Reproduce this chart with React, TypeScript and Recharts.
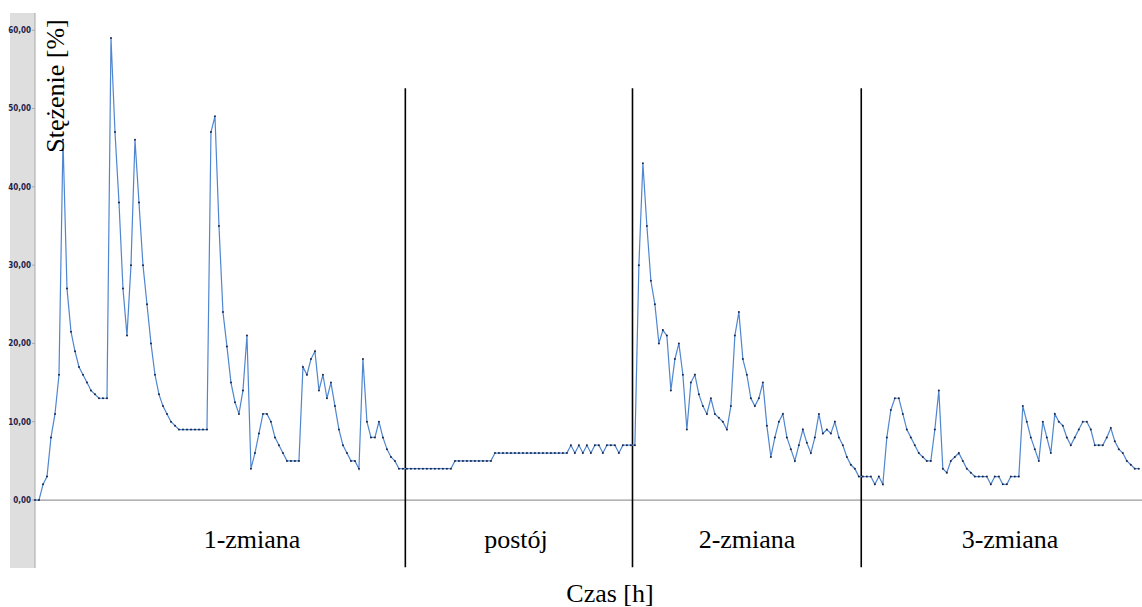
import { Line, LineChart, ReferenceLine, YAxis, XAxis } from "recharts";

// Stężenie [%] sampled every 5 min, split by work period
const shift1 = [
  0, 0, 2, 3, 8, 11, 16, 46, 27, 21.5,
  19, 17, 16, 15, 14, 13.5, 13, 13, 13, 59,
  47, 38, 27, 21, 30, 46, 38, 30, 25, 20,
  16, 13.5, 12, 11, 10, 9.5, 9, 9, 9, 9,
  9, 9, 9, 9, 47, 49, 35, 24, 19.6, 15,
  12.5, 11, 14, 21, 4, 6, 8.5, 11, 11, 10,
  8, 7, 6, 5, 5, 5, 5, 17, 16, 18,
  19, 14, 16, 13, 15, 12, 9, 7, 6, 5,
  5, 4, 18, 10, 8, 8, 10, 8, 6.5, 5.5,
  5, 4, 4,
];
const pause = [
  4, 4, 4, 4, 4, 4, 4, 4, 4, 4,
  4, 4, 5, 5, 5, 5, 5, 5, 5, 5,
  5, 5, 6, 6, 6, 6, 6, 6, 6, 6,
  6, 6, 6, 6, 6, 6, 6, 6, 6, 6,
  6, 7, 6, 7, 6, 7, 6, 7, 7, 6,
  7, 7, 7, 6, 7, 7, 7,
];
const shift2 = [
  7, 30, 43, 35, 28, 25, 20, 21.7, 21, 14,
  18, 20, 16, 9, 15, 16, 13.5, 12, 11, 13,
  11, 10.5, 10, 9, 12, 21, 24, 18, 16, 13,
  12, 13, 15, 9.5, 5.5, 8, 10, 11, 8, 6.5,
  5, 7, 9, 7.3, 6, 8, 11, 8.5, 9, 8.5,
  10, 8, 7, 5.5, 4.5, 4, 3,
];
const shift3 = [
  3, 3, 3, 2, 3, 2, 8, 11.5, 13, 13,
  11, 9, 8, 7, 6, 5.5, 5, 5, 9, 14,
  4, 3.5, 5, 5.5, 6, 5, 4, 3.5, 3, 3,
  3, 3, 2, 3, 3, 2, 2, 3, 3, 3,
  12, 10, 8, 6.5, 5, 10, 8, 6, 11, 10,
  9.5, 8, 7, 8, 9, 10, 10, 9, 7, 7,
  7, 8, 9.2, 7.5, 6.5, 6, 5, 4.5, 4, 4,
];

const STEP_MIN = 5;
const boundaries = [463, 747, 1033];
const periodLabels = ["1-zmiana", "postój", "2-zmiana", "3-zmiana"];
const yTicks = [0, 10, 20, 30, 40, 50, 60];

const values = [...shift1, ...pause, ...shift2, ...shift3];
const data = values.map((v, i) => ({ t: i * STEP_MIN, v }));

const formatTick = (v: number) => v.toFixed(2).replace(".", ",");

const labelPos = [252, 516, 747, 1010];

export default function App() {
  return (
    <div style={{ position: "absolute", left: 0, top: 0, width: 1142, height: 607, background: "#fff" }}>
      <div style={{ position: "absolute", left: 10, top: 13, width: 25, height: 555, background: "#dedede" }} />
      <div style={{ position: "absolute", left: 0, top: 0 }}>
        <LineChart width={1142} height={607} data={data} margin={{ top: 13, right: 0, bottom: 39, left: 10 }}>
          <XAxis type="number" dataKey="t" domain={[0, 1384]} hide />
          <YAxis
            type="number"
            domain={[-8.68, 62.2]}
            ticks={yTicks}
            width={25}
            tickFormatter={formatTick}
            tickSize={3}
            tickMargin={1}
            stroke="#a8a8a8"
            tick={{ fill: "#1f1f4d", fontSize: 8, fontWeight: 700, fontFamily: "'Liberation Sans Narrow', 'DejaVu Sans Condensed', sans-serif" }}
          />
          <ReferenceLine y={0} stroke="#9a9a9a" strokeWidth={1.2} />
          {boundaries.map((b) => (
            <ReferenceLine
              key={b}
              segment={[{ x: b, y: 52.6 }, { x: b, y: -8.6 }]}
              stroke="#000"
              strokeWidth={1.6}
            />
          ))}
          <Line
            type="linear"
            dataKey="v"
            stroke="#4f86d0"
            strokeWidth={1.2}
            dot={{ r: 1, fill: "#1a2648", stroke: "none" }}
            activeDot={false}
            isAnimationActive={false}
          />
        </LineChart>
      </div>
      <svg width={1142} height={607} style={{ position: "absolute", left: 0, top: 0, pointerEvents: "none" }}>
        <g fontFamily="'Liberation Serif', 'Times New Roman', serif" fill="#000" fontSize={26}>
          {periodLabels.map((l, i) => (
            <text key={l} x={labelPos[i]} y={548} textAnchor="middle">{l}</text>
          ))}
          <text x={610} y={602} textAnchor="middle">Czas [h]</text>
          <text transform="translate(64,86) rotate(-90)" textAnchor="middle" fontSize={26}>Stężenie [%]</text>
        </g>
      </svg>
    </div>
  );
}
